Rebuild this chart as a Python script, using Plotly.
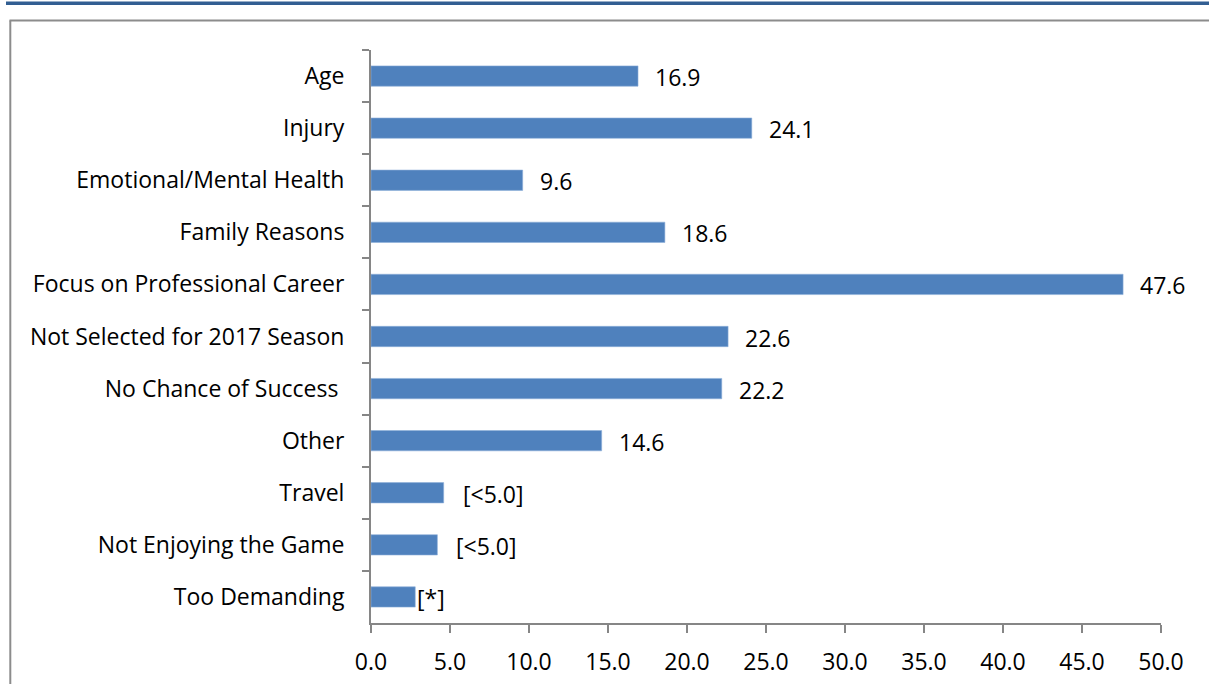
import plotly.graph_objects as go

categories = ["Age", "Injury", "Emotional/Mental Health", "Family Reasons",
              "Focus on Professional Career", "Not Selected for 2017 Season",
              "No Chance of Success ", "Other", "Travel", "Not Enjoying the Game",
              "Too Demanding"]
values = [16.9, 24.1, 9.6, 18.6, 47.6, 22.6, 22.2, 14.6, 4.6, 4.2, 2.8]
value_labels = ["16.9", "24.1", "9.6", "18.6", "47.6", "22.6", "22.2", "14.6",
                "[<5.0]", "[<5.0]", "[*]"]
label_gaps = [15, 15, 15, 15, 15, 15, 15, 15, 17, 17, 0]
tick_vals = [0, 5, 10, 15, 20, 25, 30, 35, 40, 45, 50]
tick_text = ["0.0", "5.0", "10.0", "15.0", "20.0", "25.0", "30.0", "35.0",
             "40.0", "45.0", "50.0"]

W, H = 1209, 684
L, R, T, B = 371, 48, 50, 61
pw, ph = W - L - R, H - T - B
FONT = "Open Sans"
FS = 23

fig = go.Figure()
fig.add_trace(go.Bar(
    y=categories, x=values, orientation="h",
    marker=dict(color="#4F81BD", line=dict(color="#8EB0DA", width=0.6)),
    width=0.39, hoverinfo="skip",
))

for c, v, t, g in zip(categories, values, value_labels, label_gaps):
    fig.add_annotation(x=v, y=c, text=t, showarrow=False, xanchor="left",
                       yanchor="middle", xshift=g, yshift=-1,
                       font=dict(family=FONT, size=FS, color="#000000"))

def px(x):
    return (x - L) / pw

def py(y):
    return (H - B - y) / ph

shapes = [
    dict(type="line", xref="paper", yref="paper", x0=px(6), x1=px(1209),
         y0=py(3.2), y1=py(3.2), line=dict(color="#325E92", width=3.5)),
    dict(type="line", xref="paper", yref="paper", x0=px(9.5), x1=px(1209),
         y0=py(20.5), y1=py(20.5), line=dict(color="#8C8C8C", width=2)),
    dict(type="line", xref="paper", yref="paper", x0=px(10.3), x1=px(10.3),
         y0=py(20.5), y1=py(690), line=dict(color="#8C8C8C", width=2)),
]

fig.update_layout(
    width=W, height=H,
    margin=dict(l=L, r=R, t=T, b=B, pad=0, autoexpand=False),
    paper_bgcolor="white", plot_bgcolor="white",
    showlegend=False,
    font=dict(family=FONT, size=FS, color="#000000"),
    shapes=shapes,
    xaxis=dict(range=[0, 50], tickvals=tick_vals, ticktext=tick_text,
               showgrid=False, zeroline=False, showline=True,
               linecolor="#868686", linewidth=2, ticks="outside", ticklen=8,
               tickwidth=2, tickcolor="#868686", fixedrange=True,
               ticklabelstandoff=9, automargin=False,
               tickfont=dict(family=FONT, size=FS, color="#000000")),
    yaxis=dict(categoryorder="array", categoryarray=categories,
               autorange="reversed", showgrid=False, zeroline=False,
               showline=True, linecolor="#868686", linewidth=2,
               ticks="outside", ticklen=7, tickwidth=2, tickcolor="#868686",
               tickson="boundaries", ticklabelstandoff=20, fixedrange=True,
               automargin=False,
               tickfont=dict(family=FONT, size=FS, color="#000000")),
)

fig.write_html("out.html", config={"displayModeBar": False},
               post_script="document.body.style.margin='0';document.body.style.overflow='hidden';")
